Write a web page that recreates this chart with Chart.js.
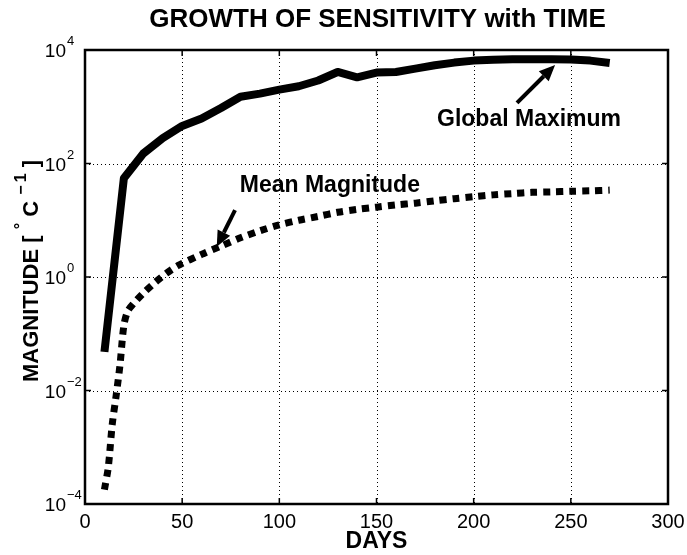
<!DOCTYPE html>
<html>
<head>
<meta charset="utf-8">
<title>Growth of sensitivity with time</title>
<script src="https://cdn.jsdelivr.net/npm/chart.js@4.4.1/dist/chart.umd.min.js"></script>
<style>
    html, body { margin: 0; padding: 0; background: #fff; }
    #wrap { width: 687px; height: 555px; }
</style>
</head>
<body>
<div id="wrap"><canvas id="graphique" width="687" height="555"></canvas></div>
<script>
// solid curve: global maximum, one value every 10 days
const maxDays = [10, 20, 30, 40, 50, 60, 70, 80, 90, 100, 110, 120, 130, 140,
                 150, 160, 170, 180, 190, 200, 210, 220, 230, 240, 250, 260, 270];
const globalMax = [0.048, 55, 150, 280, 460, 620, 950, 1500, 1700, 2000, 2300, 2900, 4100, 3300,
                   4000, 4100, 4700, 5400, 6000, 6500, 6700, 6900, 6900, 6900, 6800, 6500, 5900];

// dashed curve: mean magnitude
const meanDays = [10, 12, 14, 16, 18, 20, 22, 25, 30, 36, 42, 48, 60, 70, 80, 90, 100,
                  110, 120, 130, 140, 150, 160, 170, 180, 190, 200, 210, 220, 230, 240, 250, 260, 270];
const meanMag = [1.8e-4, 4.5e-4, 2.5e-3, 8e-3, 0.028, 0.14, 0.25, 0.34, 0.52, 0.8, 1.17, 1.6, 2.5, 3.5, 4.9, 6.5, 8.3,
                 10, 11.7, 13.8, 15.5, 17, 18.6, 20, 22, 24, 26, 28, 29.5, 31, 31.6, 32.4, 33, 34];

const xTicks = [0, 50, 100, 150, 200, 250, 300];
const yTicks = [1e-4, 1e-2, 1, 1e2, 1e4];
const yTickExp = ["-4", "-2", "0", "2", "4"];

const FONT = "'Liberation Sans', Arial, Helvetica, sans-serif";

function arrow(ctx, x1, y1, x2, y2) {
    const a = Math.atan2(y2 - y1, x2 - x1);
    const head = 16, half = 7;
    const bx = x2 - head * Math.cos(a), by = y2 - head * Math.sin(a);
    ctx.save();
    ctx.strokeStyle = "#000";
    ctx.lineWidth = 4;
    ctx.beginPath();
    ctx.moveTo(x1, y1);
    ctx.lineTo(bx, by);
    ctx.stroke();
    ctx.beginPath();
    ctx.moveTo(x2, y2);
    ctx.lineTo(bx + half * Math.sin(a), by - half * Math.cos(a));
    ctx.lineTo(bx - half * Math.sin(a), by + half * Math.cos(a));
    ctx.closePath();
    ctx.fillStyle = "#000";
    ctx.fill();
    ctx.restore();
}

const decor = {
    id: "decor",
    beforeDatasetsDraw(chart) {
        const { ctx, chartArea: a, scales: { x, y } } = chart;
        ctx.save();
        ctx.strokeStyle = "#000";
        ctx.lineWidth = 1;
        ctx.setLineDash([1, 3]);
        xTicks.slice(1, -1).forEach(v => {
            const px = Math.round(x.getPixelForValue(v)) + 0.5;
            ctx.beginPath(); ctx.moveTo(px, a.top); ctx.lineTo(px, a.bottom); ctx.stroke();
        });
        yTicks.slice(1, -1).forEach(v => {
            const py = Math.round(y.getPixelForValue(v)) + 0.5;
            ctx.beginPath(); ctx.moveTo(a.left, py); ctx.lineTo(a.right, py); ctx.stroke();
        });
        ctx.restore();
    },
    afterDraw(chart) {
        const { ctx, chartArea: a, scales: { x, y } } = chart;
        ctx.save();

        // frame and inward ticks
        ctx.strokeStyle = "#000";
        ctx.lineWidth = 2.5;
        ctx.strokeRect(a.left, a.top, a.right - a.left, a.bottom - a.top);
        ctx.lineWidth = 1.5;
        xTicks.forEach(v => {
            const px = x.getPixelForValue(v);
            ctx.beginPath();
            ctx.moveTo(px, a.bottom); ctx.lineTo(px, a.bottom - 6);
            ctx.moveTo(px, a.top); ctx.lineTo(px, a.top + 6);
            ctx.stroke();
        });
        yTicks.forEach(v => {
            const py = y.getPixelForValue(v);
            ctx.beginPath();
            ctx.moveTo(a.left, py); ctx.lineTo(a.left + 6, py);
            ctx.moveTo(a.right, py); ctx.lineTo(a.right - 6, py);
            ctx.stroke();
        });

        ctx.fillStyle = "#000";

        // x tick labels
        ctx.font = "20px " + FONT;
        ctx.textAlign = "center";
        ctx.textBaseline = "middle";
        xTicks.forEach(v => ctx.fillText(String(v), x.getPixelForValue(v), a.bottom + 18));

        // y tick labels, 10 with exponent
        yTicks.forEach((v, i) => {
            const py = y.getPixelForValue(v);
            ctx.font = "19px " + FONT;
            ctx.textAlign = "right";
            ctx.textBaseline = "alphabetic";
            ctx.fillText("10", 66, py + 7);
            ctx.font = "13px " + FONT;
            ctx.textAlign = "left";
            ctx.fillText(yTickExp[i].replace("-", "\u2212"), 67, py - 5);
        });

        // title
        ctx.font = "bold 26px " + FONT;
        ctx.textAlign = "center";
        ctx.textBaseline = "middle";
        ctx.fillText("GROWTH OF SENSITIVITY with TIME", (a.left + a.right) / 2 + 1, 20);

        // x axis title
        ctx.font = "bold 23px " + FONT;
        ctx.fillText("DAYS", (a.left + a.right) / 2, 542);

        // y axis title with raised degree sign and exponent
        ctx.save();
        ctx.translate(32, 271);
        ctx.rotate(-Math.PI / 2);
        const parts = [
            ["MAGNITUDE [ ", "bold 22px " + FONT, 0],
            ["\u00b0", "bold 16px " + FONT, -10],
            [" C ", "bold 22px " + FONT, 0],
            ["\u2212\u20091", "bold 16px " + FONT, -10],
            [" ]", "bold 22px " + FONT, 0]
        ];
        let total = 0;
        parts.forEach(p => { ctx.font = p[1]; total += ctx.measureText(p[0]).width; });
        let cx = -total / 2;
        ctx.textAlign = "left";
        ctx.textBaseline = "middle";
        parts.forEach(p => {
            ctx.font = p[1];
            ctx.fillText(p[0], cx, p[2]);
            cx += ctx.measureText(p[0]).width;
        });
        ctx.restore();

        // annotations
        ctx.font = "bold 23px " + FONT;
        ctx.textAlign = "center";
        ctx.textBaseline = "middle";
        ctx.fillText("Global Maximum", x.getPixelForValue(228.5), y.getPixelForValue(590));
        ctx.fillText("Mean Magnitude", x.getPixelForValue(126), y.getPixelForValue(40));
        arrow(ctx, x.getPixelForValue(222.3), y.getPixelForValue(1170),
                   x.getPixelForValue(241.9), y.getPixelForValue(5450));
        arrow(ctx, x.getPixelForValue(77.2), y.getPixelForValue(15.1),
                   x.getPixelForValue(67.8), y.getPixelForValue(3.4));
        ctx.restore();
    }
};

const ctx = document.getElementById("graphique").getContext("2d");
new Chart(ctx, {
    type: "line",
    data: {
        datasets: [{
            label: "Global Maximum",
            data: maxDays.map((d, i) => ({ x: d, y: globalMax[i] })),
            borderColor: "#000",
            borderWidth: 8,
            borderJoinStyle: "round",
            borderCapStyle: "butt",
            pointRadius: 0,
            tension: 0
        }, {
            label: "Mean Magnitude",
            data: meanDays.map((d, i) => ({ x: d, y: meanMag[i] })),
            borderColor: "#000",
            borderWidth: 7,
            borderDash: [7, 6],
            borderCapStyle: "butt",
            pointRadius: 0,
            tension: 0.3
        }]
    },
    options: {
        responsive: false,
        animation: false,
        layout: { padding: { left: 85, right: 19, top: 50, bottom: 51 } },
        plugins: { legend: { display: false }, tooltip: { enabled: false } },
        scales: {
            x: { type: "linear", min: 0, max: 300, display: false },
            y: { type: "logarithmic", min: 1e-4, max: 1e4, display: false }
        }
    },
    plugins: [decor]
});
</script>
</body>
</html>
